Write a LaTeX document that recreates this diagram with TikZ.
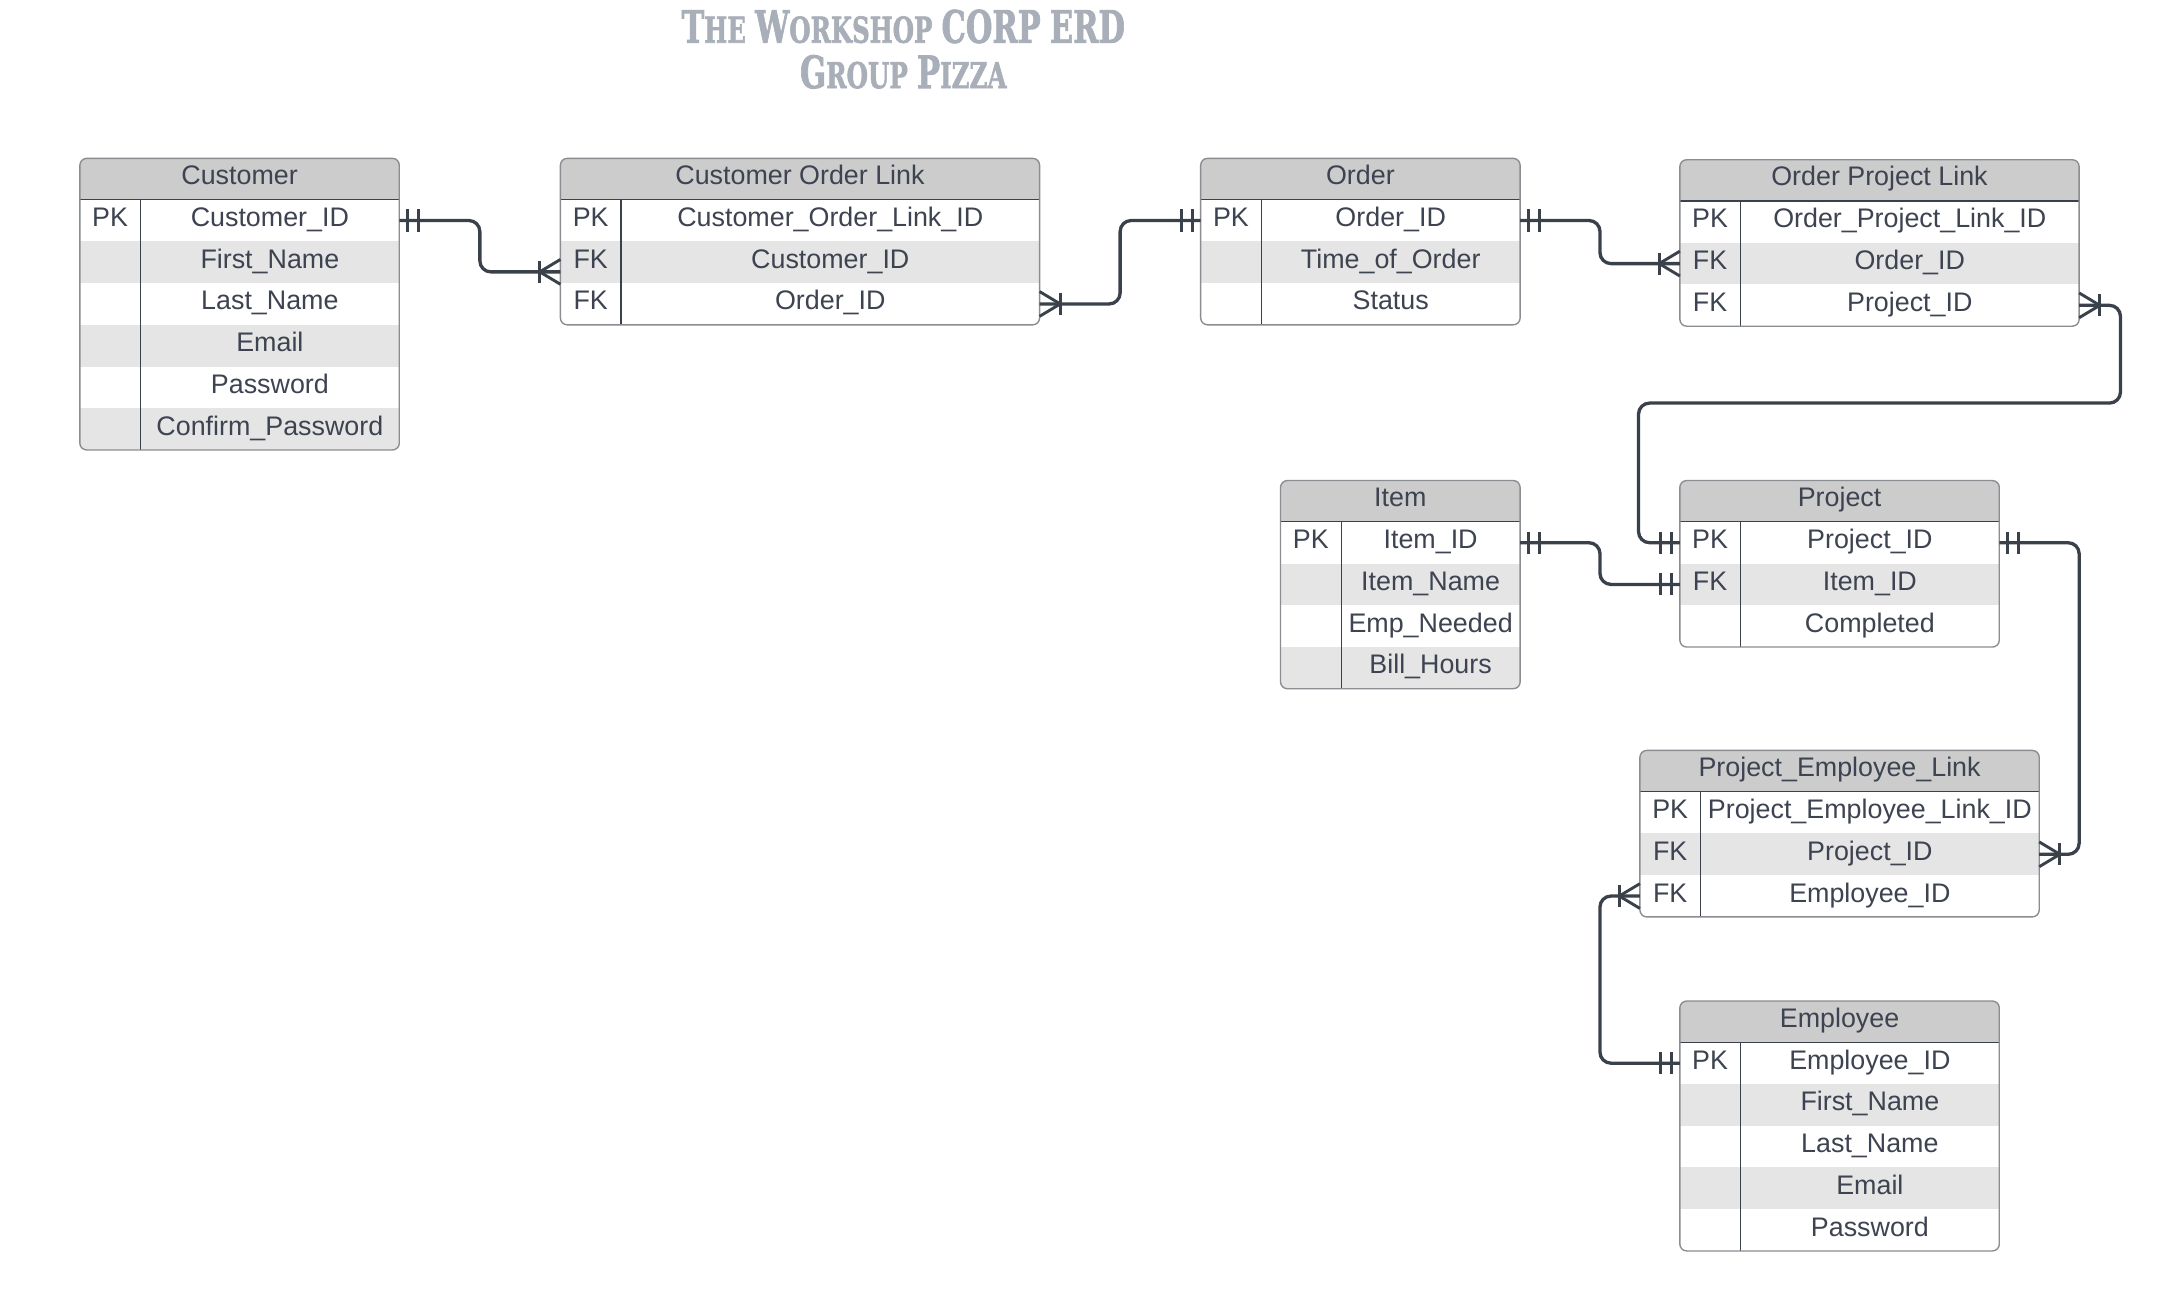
\documentclass[tikz,border=0pt]{standalone}
\usepackage{fontspec}
\setmainfont{Liberation Sans}
\newfontfamily\titlefont{DejaVu Serif}[BoldFeatures={FakeBold=2}]
\usepackage{graphicx}
\usetikzlibrary{calc}
\definecolor{ink}{HTML}{3A414A}
\definecolor{txt}{HTML}{3D4350}
\definecolor{hdr}{HTML}{CCCCCC}
\definecolor{alt}{HTML}{E5E5E5}
\definecolor{frame}{HTML}{8A8D92}
\definecolor{ttl}{HTML}{A9AFB9}
\tikzset{
 conn/.style={draw=ink, line width=2.4pt},
 erdmark/.style={draw=ink, line width=2.1pt},
 rowbox/.style={inner sep=0pt, outer sep=0pt, minimum height=30.3pt},
 cell/.style={inner sep=0pt, text=txt, anchor=base, font=\fontsize{19.5}{22}\selectfont},
 frameline/.style={draw=frame, line width=1pt},
 innerline/.style={draw=ink, line width=0.9pt},
}
\newcommand\erdtable[7]{%
 \pgfmathsetmacro\erdB{#3+30+#5*30.3}%
 \begin{scope}
  \clip[rounded corners=5pt] (#2,#3) rectangle (#2+#4,\erdB);
  \fill[hdr] (#2,#3) rectangle (#2+#4,#3+30);
  \foreach [count=\i] \k/\f in {#7} {
    \pgfmathsetmacro\ra{#3+30+(\i-1)*30.3}
    \ifodd\i\else\fill[alt] (#2,\ra) rectangle ++(#4,30.3);\fi
  }
 \end{scope}
 \node[cell] (#1) at (#2+#4/2,#3+19) {#6};
 \foreach [count=\i] \k/\f in {#7} {
   \pgfmathsetmacro\ra{#3+30+(\i-1)*30.3}
   \node[rowbox, minimum width=#4, anchor=north west] (#1-\i) at (#2,\ra) {};
   \node[cell] (#1-\i-k) at (#2+22,\ra+19.5) {\k};
   \node[cell] (#1-\i-f) at (#2+22+#4/2,\ra+19.5) {\f};
 }
 \draw[innerline] (#2,#3+30) -- (#2+#4,#3+30);
 \draw[innerline] (#2+44,#3+30) -- (#2+44,\erdB);
 \draw[frameline, rounded corners=5pt] (#2,#3) rectangle (#2+#4,\erdB);
}
\newcommand\mone[2]{%
 \draw[erdmark] ($(#1)+(#2*6,-8)$) -- ++(0,16);
 \draw[erdmark] ($(#1)+(#2*14,-8)$) -- ++(0,16);}
\newcommand\mmany[2]{%
 \draw[erdmark] ($(#1)+(#2*15,-8)$) -- ++(0,16);
 \draw[erdmark] ($(#1)+(0,-9)$) -- ($(#1)+(#2*15,0)$) -- ($(#1)+(0,9)$);}
\newcommand\tbig[1]{{\fontsize{30}{30}\selectfont #1}}
\newcommand\tsm[1]{{\fontsize{24}{24}\selectfont #1}}
\newcommand\tsp{\hspace{9pt}}
\begin{document}
\begin{tikzpicture}[x=1pt,y=-1pt]
\useasboundingbox (0,0) rectangle (1568,942);
\fill[white] (0,0) rectangle (1568,942);
% title
\node[anchor=base, text=ttl, inner sep=0pt] (title1) at (656,31)
  {\resizebox{322pt}{24pt}{\titlefont\bfseries \tbig{T}\tsm{HE}\tsp\tbig{W}\tsm{ORKSHOP}\tsp\tbig{CORP}\tsp\tbig{ERD}}};
\node[anchor=base, text=ttl, inner sep=0pt] (title2) at (656,64)
  {\resizebox{150pt}{24pt}{\titlefont\bfseries \tbig{G}\tsm{ROUP}\tsp\tbig{P}\tsm{IZZA}}};
% tables
\erdtable{cust}{58}{115}{232}{6}{Customer}{PK/Customer\_ID, {}/First\_Name, {}/Last\_Name, {}/Email, {}/Password, {}/Confirm\_Password}
\erdtable{col}{407}{115}{348}{3}{Customer Order Link}{PK/Customer\_Order\_Link\_ID, FK/Customer\_ID, FK/Order\_ID}
\erdtable{ord}{872}{115}{232}{3}{Order}{PK/Order\_ID, {}/Time\_of\_Order, {}/Status}
\erdtable{opl}{1220}{116}{290}{3}{Order Project Link}{PK/Order\_Project\_Link\_ID, FK/Order\_ID, FK/Project\_ID}
\erdtable{item}{930}{349}{174}{4}{Item}{PK/Item\_ID, {}/Item\_Name, {}/Emp\_Needed, {}/Bill\_Hours}
\erdtable{proj}{1220}{349}{232}{3}{Project}{PK/Project\_ID, FK/Item\_ID, {}/Completed}
\erdtable{pel}{1191}{545}{290}{3}{Project\_Employee\_Link}{PK/Project\_Employee\_Link\_ID, FK/Project\_ID, FK/Employee\_ID}
\erdtable{emp}{1220}{727}{232}{5}{Employee}{PK/Employee\_ID, {}/First\_Name, {}/Last\_Name, {}/Email, {}/Password}
% connectors
\coordinate (c1) at ($(col-2.west)+(0,7)$);
\draw[conn, rounded corners=8pt] (cust-1.east) -| ($(cust-1.east)!0.5!(c1)$) |- (c1);
\mone{cust-1.east}{1} \mmany{c1}{-1}
\draw[conn, rounded corners=8pt] (col-3.east) -| ($(col-3.east)!0.5!(ord-1.west)$) |- (ord-1.west);
\mmany{col-3.east}{1} \mone{ord-1.west}{-1}
\draw[conn, rounded corners=8pt] (ord-1.east) -| ($(ord-1.east)!0.5!(opl-2.west)$) |- (opl-2.west);
\mone{ord-1.east}{1} \mmany{opl-2.west}{-1}
\draw[conn, rounded corners=8pt] (opl-3.east) -| ++(30,71) -| ($(proj-1.west)+(-30,0)$) -- (proj-1.west);
\mmany{opl-3.east}{1} \mone{proj-1.west}{-1}
\draw[conn, rounded corners=8pt] (item-1.east) -| ($(item-1.east)!0.5!(proj-2.west)$) |- (proj-2.west);
\mone{item-1.east}{1} \mone{proj-2.west}{-1}
\draw[conn, rounded corners=8pt] (proj-1.east) -| ($(pel-2.east)+(29,0)$) -- (pel-2.east);
\mone{proj-1.east}{1} \mmany{pel-2.east}{1}
\draw[conn, rounded corners=8pt] (pel-3.west) -| ($(emp-1.west)+(-58,0)$) -- (emp-1.west);
\mmany{pel-3.west}{-1} \mone{emp-1.west}{-1}
\end{tikzpicture}
\end{document}
